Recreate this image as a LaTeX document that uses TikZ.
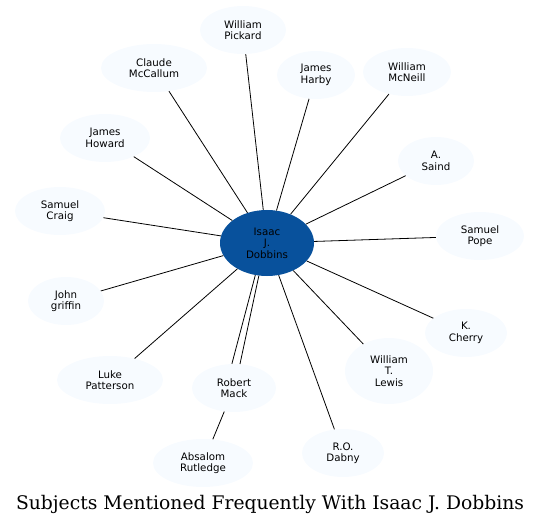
\documentclass[tikz,border=0pt]{standalone}
\usepackage{fontspec}
\setmainfont{DejaVu Sans}
\newfontfamily\titlefont{DejaVu Serif}
\usetikzlibrary{shapes.geometric}
\definecolor{lightnode}{HTML}{F7FBFF}
\definecolor{centernode}{HTML}{08519C}
\tikzset{
  person/.style={ellipse, fill=lightnode, draw=none, inner sep=0pt, align=center,
    font=\fontsize{10.3}{11.5}\selectfont, minimum height=48bp},
  hub/.style={ellipse, fill=centernode, draw=none, inner sep=0pt, align=center,
    font=\fontsize{10.3}{11.5}\selectfont, minimum width=94bp, minimum height=66bp},
  link/.style={draw=black, line width=0.8bp}
}
\begin{document}
\begin{tikzpicture}[x=1bp,y=-1bp]
\useasboundingbox (0,0) rectangle (541,524);
\node[hub] (c) at (267,243) {Isaac\\J.\\Dobbins};
\node[person, minimum width=86bp] (wp) at (243,30) {William\\Pickard};
\node[person, minimum width=106bp] (cm) at (154,68) {Claude\\McCallum};
\node[person, minimum width=78bp] (jh) at (316,75) {James\\Harby};
\node[person, minimum width=88bp] (wm) at (407,72) {William\\McNeill};
\node[person, minimum width=90bp] (jhw) at (105,138) {James\\Howard};
\node[person, minimum width=76bp] (as) at (436,161) {A.\\Saind};
\node[person, minimum width=90bp] (sc) at (60,211) {Samuel\\Craig};
\node[person, minimum width=88bp] (sp) at (480,236) {Samuel\\Pope};
\node[person, minimum width=76bp] (jg) at (66,301) {John\\griffin};
\node[person, minimum width=82bp] (kc) at (466,333) {K.\\Cherry};
\node[person, minimum width=88bp, minimum height=66bp] (wl) at (389,371) {William\\T.\\Lewis};
\node[person, minimum width=106bp] (lp) at (110,380) {Luke\\Patterson};
\node[person, minimum width=84bp] (rm) at (234,388) {Robert\\Mack};
\node[person, minimum width=100bp] (ar) at (203,463) {Absalom\\Rutledge};
\node[person, minimum width=82bp] (rd) at (343,453) {R.O.\\Dabny};
\foreach \n in {wp,cm,jh,wm,jhw,as,sc,sp,jg,kc,wl,lp,rd}
  \draw[link] (c) -- (\n);
\draw[link] (c.250) -- (rm.95);
\draw[link] (c.256) -- (rm.76);
\draw[link] (rm) -- (ar);
\node[font=\titlefont\fontsize{18.8}{20}\selectfont, anchor=base] (title) at (270,509) {Subjects Mentioned Frequently With Isaac J. Dobbins};
\end{tikzpicture}
\end{document}
